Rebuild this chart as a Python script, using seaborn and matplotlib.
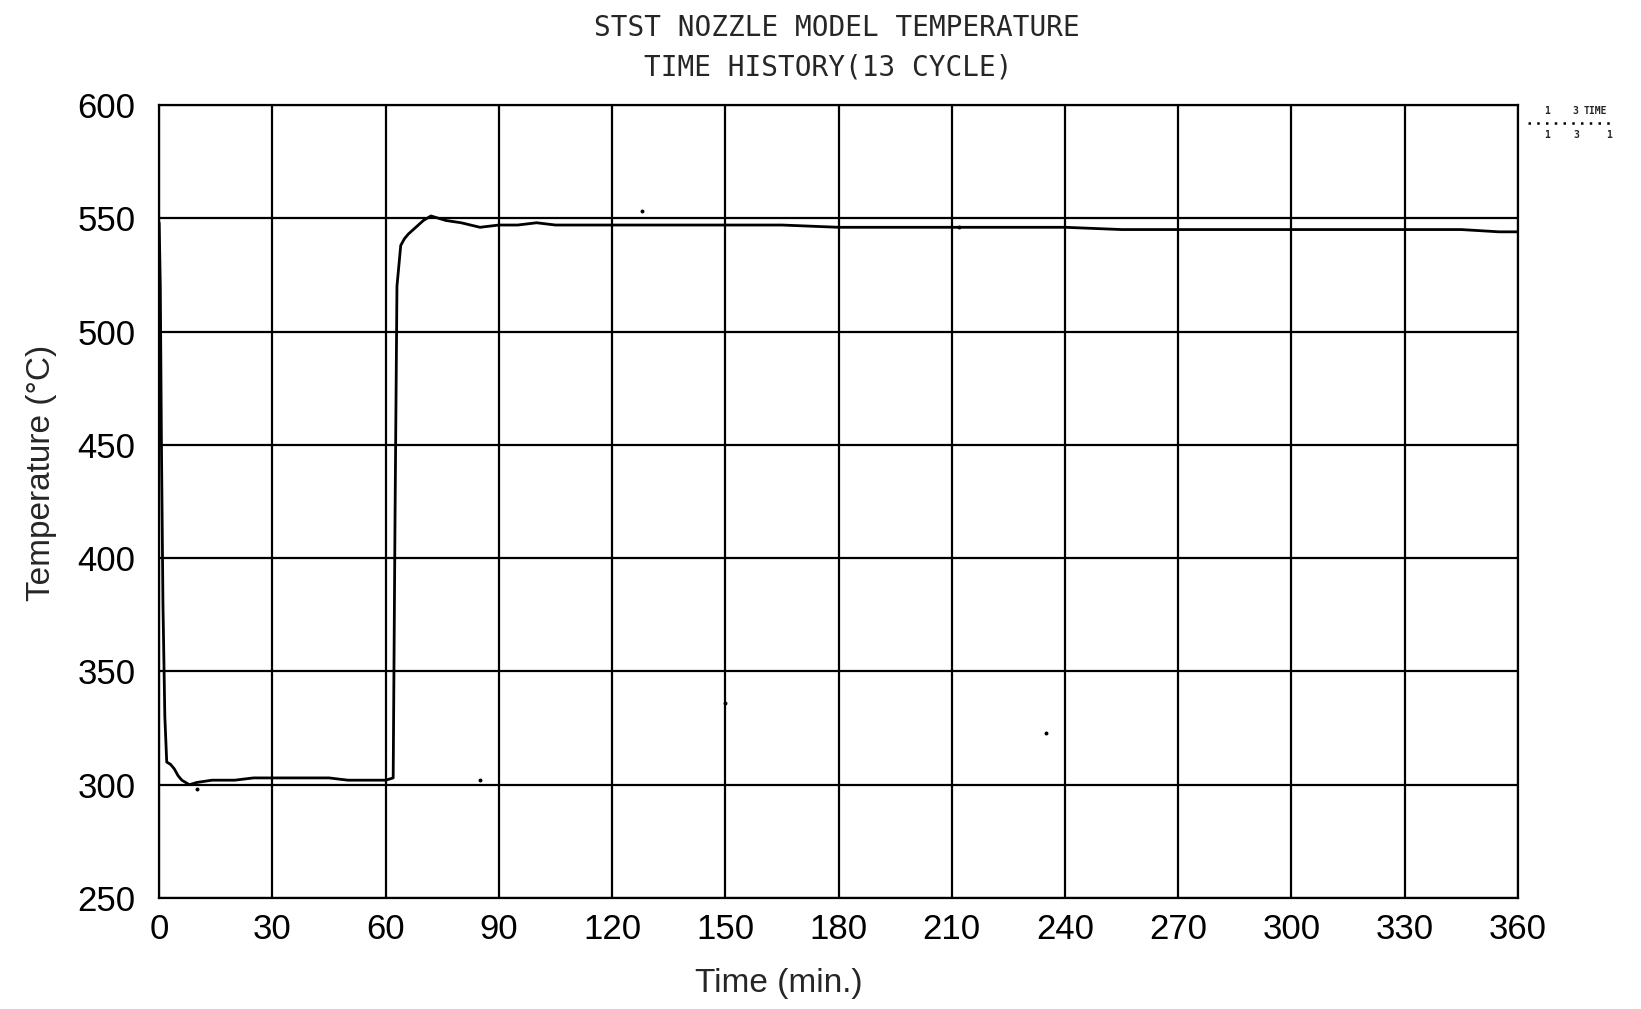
import matplotlib.pyplot as plt
import seaborn as sns
import pandas as pd
from matplotlib.lines import Line2D

# temperature time history
time_min = [0, 0.3, 0.6, 1, 1.5, 2, 3, 4, 5, 6, 8, 10, 14, 20, 25, 30, 35, 40, 45, 50, 55, 60, 62,
            62.5, 63, 64, 65, 66, 68, 70, 72, 74, 76, 80, 85, 90, 95, 100, 105, 110, 120, 135,
            150, 165, 180, 195, 210, 225, 240, 255, 270, 285, 300, 315, 330, 345, 355, 360]
temp_c = [548, 520, 450, 380, 330, 310, 309, 307, 304, 302, 300, 301, 302, 302, 303, 303, 303, 303,
          303, 302, 302, 302, 303, 420, 520, 538, 541, 543, 546, 549, 551, 550, 549, 548, 546, 547,
          547, 548, 547, 547, 547, 547, 547, 547, 546, 546, 546, 546, 546, 545, 545, 545, 545, 545,
          545, 545, 544, 544]
stray_t = [150, 235, 85, 10, 128, 212]
stray_temp = [336, 323, 302, 298, 553, 546]

x_ticks = list(range(0, 361, 30))
y_ticks = list(range(250, 601, 50))

df = pd.DataFrame({'time': time_min, 'temp': temp_c})

sns.set_style('white')
plt.rcParams['font.family'] = ['Liberation Sans', 'DejaVu Sans']

fig = plt.figure(figsize=(16.41, 10.09), dpi=100)
ax = fig.add_axes([0.097, 0.110, 0.828, 0.786])

sns.lineplot(data=df, x='time', y='temp', color='black', linewidth=2.0, ax=ax)
sns.scatterplot(x=stray_t, y=stray_temp, color='black', s=8, ax=ax, linewidth=0)

ax.set_xlim(0, 360)
ax.set_ylim(250, 600)
ax.set_xticks(x_ticks)
ax.set_yticks(y_ticks)
ax.grid(True, color='black', linewidth=1.6)
for s in ax.spines.values():
    s.set_color('black')
    s.set_linewidth(1.6)
ax.tick_params(axis='both', length=0, labelsize=25, colors='black')
ax.tick_params(axis='x', pad=11)
ax.tick_params(axis='y', pad=17)

ax.set_xlabel('Time (min.)', fontsize=24)
ax.set_ylabel('Temperature (°C)', fontsize=24)
ax.xaxis.set_label_coords(0.456, -0.088)
ax.yaxis.set_label_coords(-0.075, 0.536)

mono = ['DejaVu Sans Mono']
fig.text(0.510, 0.972, 'STST NOZZLE MODEL TEMPERATURE', ha='center', va='center',
         fontsize=20, family=mono)
fig.text(0.505, 0.933, 'TIME HISTORY(13 CYCLE)', ha='center', va='center',
         fontsize=20, family=mono)

# small plotter legend at the upper right
fig.add_artist(Line2D([0.931, 0.984], [0.878, 0.878], transform=fig.transFigure,
                      color='black', linestyle=(0, (1, 2.5)), linewidth=1.8))
legend_bits = [(0.941, 0.890, '1'), (0.958, 0.890, '3'), (0.965, 0.890, 'TIME'),
               (0.941, 0.866, '1'), (0.959, 0.866, '3'), (0.979, 0.866, '1')]
for lx, ly, txt in legend_bits:
    fig.text(lx, ly, txt, fontsize=7, family=mono, va='center', ha='left', weight='bold')

fig.savefig('out.png', dpi=100)
